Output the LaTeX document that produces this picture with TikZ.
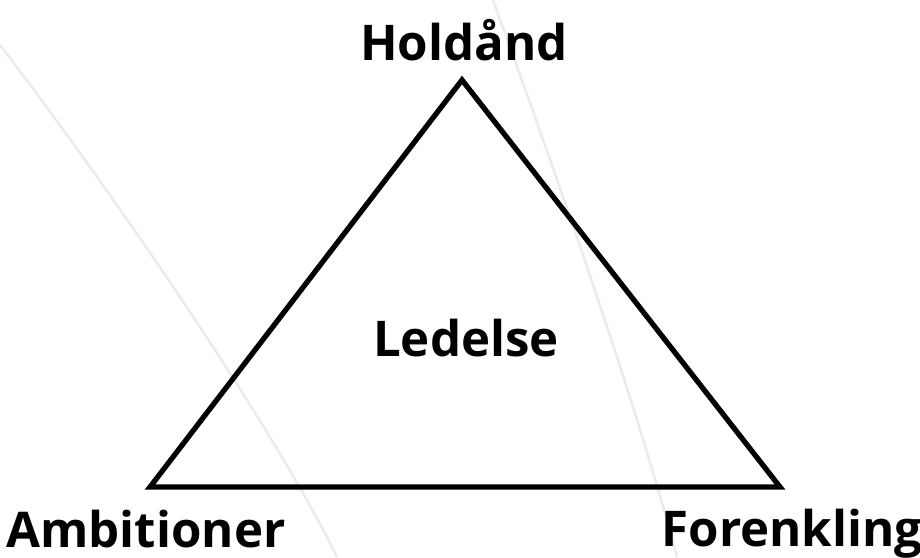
\documentclass[tikz,border=0pt]{standalone}
\usepackage{fontspec}
\setmainfont{Open Sans}
\usepackage{tikz}
\usetikzlibrary{positioning,calc}

\begin{document}
\begin{tikzpicture}[
 corner/.style={font=\bfseries\fontsize{28}{32}\selectfont,inner sep=0pt},
 side/.style={draw=black,line width=3pt,line join=miter},
 swoosh/.style={draw=black!8,line width=1.4pt}]

\useasboundingbox (0,0) rectangle (18.4,11.14);

% Faint background swooshes
\draw[swoosh] (0,10.24) .. controls (2.0,7.64) and (5.4,2.74) .. (6.74,0);
\draw[swoosh] (9.86,11.14) .. controls (10.8,8.54) and (12.6,3.54) .. (13.54,0);

% Triangle corners
\coordinate (top) at (9.24,9.54);
\coordinate (left) at (3.0,1.4);
\coordinate (right) at (15.6,1.4);
\draw[side] (top) -- (left) -- (right) -- cycle;

% Labels
\node[corner] (hold) at (9.28,10.34) {Holdånd};
\node[corner] (amb) at (2.92,0.56) {Ambitioner};
\node[corner] (fore) at (15.84,0.46) {Forenkling};
\node[corner] (led) at (9.32,4.38) {Ledelse};
\end{tikzpicture}
\end{document}
